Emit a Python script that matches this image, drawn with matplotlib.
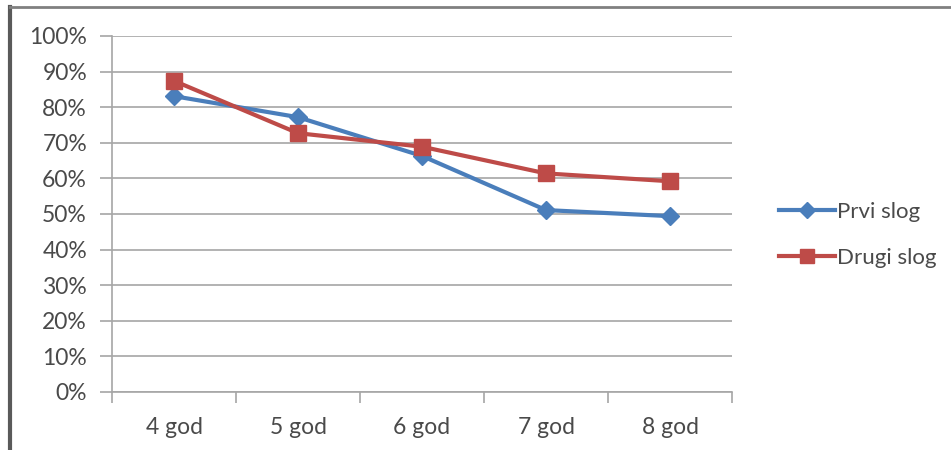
import matplotlib.pyplot as plt
from matplotlib.lines import Line2D
from matplotlib.ticker import PercentFormatter

categories = ['4 god', '5 god', '6 god', '7 god', '8 god']
prvi_slog = [83.1, 77.2, 66.3, 51.1, 49.4]
drugi_slog = [87.4, 72.7, 68.9, 61.4, 59.2]
series_names = ['Prvi slog', 'Drugi slog']

blue = '#4a7ebb'
red = '#be4b48'
grid_col = '#a6a6a6'
text_col = '#4a4a4a'

plt.rcParams['font.family'] = ['Lato', 'DejaVu Sans']

fig = plt.figure(figsize=(9.51, 4.5), dpi=100)
ax = fig.add_axes([112 / 951, 1 - 392 / 450, 620 / 951, 356 / 450])

x = list(range(len(categories)))
ax.plot(x, prvi_slog, color=blue, lw=3, marker='D', ms=9, label=series_names[0], zorder=3)
ax.plot(x, drugi_slog, color=red, lw=3, marker='s', ms=11, label=series_names[1], zorder=3)

ax.set_xlim(-0.5, len(categories) - 0.5)
ax.set_ylim(0, 100)
ax.set_yticks(range(0, 101, 10))
ax.yaxis.set_major_formatter(PercentFormatter(decimals=0))
ax.set_xticks(x)
ax.set_xticklabels(categories)
ax.set_xticks([i - 0.5 for i in range(len(categories) + 1)], minor=True)

ax.grid(axis='y', color=grid_col, lw=1.2)
ax.set_axisbelow(True)
for side in ['top', 'right']:
    ax.spines[side].set_visible(False)
for side in ['left', 'bottom']:
    ax.spines[side].set_color(grid_col)
    ax.spines[side].set_linewidth(1.2)

ax.tick_params(axis='y', length=9, color=grid_col, width=1.2, labelsize=16.5,
               labelcolor=text_col, pad=9)
ax.tick_params(axis='x', which='major', length=0, labelsize=16.5, labelcolor=text_col, pad=18)
ax.tick_params(axis='x', which='minor', length=8, color=grid_col, width=1.2)

handles = [Line2D([], [], color=blue, lw=3, marker='D', ms=8),
           Line2D([], [], color=red, lw=3, marker='s', ms=10)]
fig.legend(handles, series_names, loc='center left', bbox_to_anchor=(768 / 951, 1 - 235 / 450),
           frameon=False, fontsize=16, labelcolor=text_col, handlelength=2.5,
           handletextpad=0.1, labelspacing=1.15, borderpad=0)

# outer chart frame (top and left edges)
fig.add_artist(Line2D([10 / 951, 10 / 951], [0, 1 - 7 / 450], color='#5a5a5a', lw=3,
                      transform=fig.transFigure))
fig.add_artist(Line2D([10 / 951, 1], [1 - 7 / 450, 1 - 7 / 450], color='#808080', lw=2,
                      transform=fig.transFigure))

fig.savefig('out.png', dpi=100)
